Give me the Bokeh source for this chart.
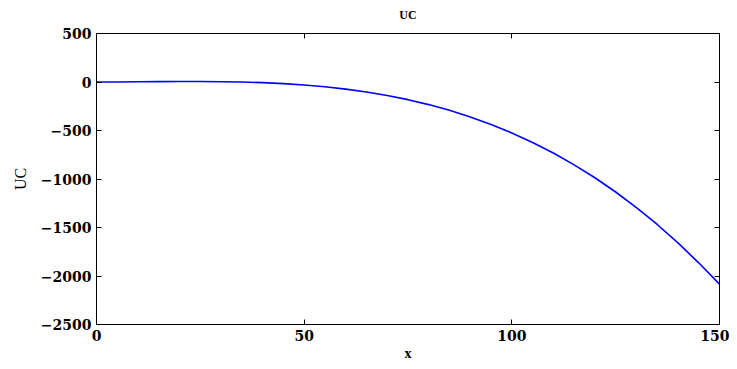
from bokeh.plotting import figure
from bokeh.models import Range1d, LinearAxis, FixedTicker
from bokeh.embed import file_html
from bokeh.resources import INLINE

x_vals = [0, 5, 10, 15, 20, 25, 30, 35, 40, 45, 50, 55, 60, 65, 70, 75,
          80, 85, 90, 95, 100, 105, 110, 115, 120, 125, 130, 135, 140, 145, 150]
uc_vals = [0, 0.6, 2, 3.5, 4.7, 4.8, 3.3, -0.3, -6.9, -16.9, -30.9, -49.5, -73.3,
           -103, -139, -182, -233, -292, -360, -438, -525, -623, -732, -854,
           -987, -1134, -1294, -1469, -1659, -1864, -2085]
x_ticks = [0, 50, 100, 150]
y_ticks = [-2500, -2000, -1500, -1000, -500, 0, 500]
title_text = "UC"

FONT = "Liberation Serif"
TICKFONT = "DejaVu Serif"

p = figure(width=729, height=365, output_backend="svg", toolbar_location=None,
           x_range=Range1d(0, 150), y_range=Range1d(-2500, 500),
           min_border_left=96, min_border_right=10, min_border_top=33, min_border_bottom=41,
           x_axis_label="x", y_axis_label="UC")

p.line(x_vals, uc_vals, line_color="#0000ff", line_width=1.6)

p.grid.visible = False
p.outline_line_color = "black"
p.background_fill_color = "white"
p.border_fill_color = "white"

xb = p.xaxis[0]
yl = p.yaxis[0]
xb.ticker = FixedTicker(ticks=x_ticks)
yl.ticker = FixedTicker(ticks=y_ticks)

top = LinearAxis(ticker=FixedTicker(ticks=x_ticks),
                 major_label_overrides={t: "" for t in x_ticks},
                 major_label_standoff=0, axis_label=title_text)
right = LinearAxis(ticker=FixedTicker(ticks=y_ticks),
                   major_label_overrides={t: "" for t in y_ticks},
                   major_label_standoff=0)
p.add_layout(top, "above")
p.add_layout(right, "right")

for ax in (xb, yl, top, right):
    ax.major_tick_in = 5
    ax.major_tick_out = 0
    ax.minor_tick_in = 0
    ax.minor_tick_out = 0
    ax.axis_line_color = "black"
    ax.major_tick_line_color = "black"
    ax.major_label_text_font = TICKFONT
    ax.major_label_text_font_style = "bold"
    ax.major_label_text_color = "black"
    ax.axis_label_text_font = FONT
    ax.axis_label_text_font_style = "bold"
    ax.axis_label_text_color = "black"

for ax in (xb, yl):
    ax.major_label_text_font_size = "14px"
    ax.major_label_standoff = 5
xb.axis_label_text_font_size = "14px"
xb.axis_label_standoff = 2
yl.axis_label_standoff = 9
yl.axis_label_text_font_style = "normal"
yl.axis_label_text_font_size = "16px"
top.axis_label_text_font_size = "12px"
top.axis_label_standoff = 12

open("out.html", "w").write(file_html(p, INLINE))
